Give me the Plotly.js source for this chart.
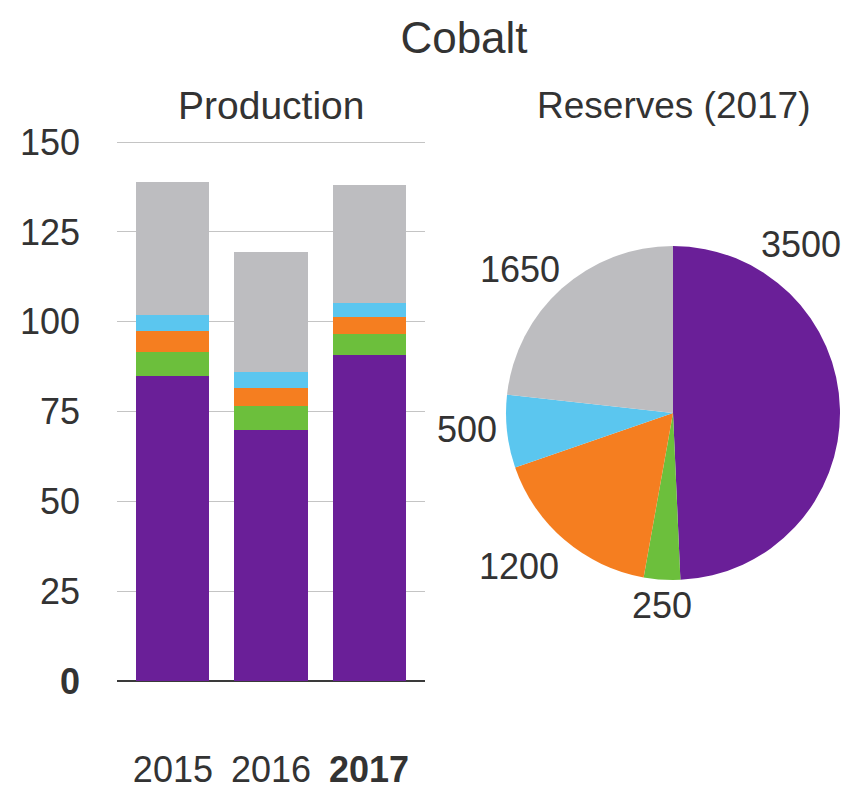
<!DOCTYPE html>
<html>
<head>
<meta charset="utf-8">
<script src="https://cdn.plot.ly/plotly-3.0.1.min.js"></script>
<style>html,body{margin:0;padding:0;background:#fff;}#chart{width:848px;height:789px;}</style>
</head>
<body>
<div id="chart"></div>
<script>
// Production (thousand tonnes), stacked by segment
const years = ['2015', '2016', '2017'];
const yearLabels = ['2015', '2016', '<b>2017</b>'];
const prodPurple = [85, 70, 90.7];
const prodGreen = [6.5, 6.5, 5.9];
const prodOrange = [6, 5, 4.8];
const prodBlue = [4.5, 4.5, 3.9];
const prodGray = [37, 33.5, 32.7];

// Reserves (2017)
const resLabels = ['A', 'B', 'C', 'D', 'E'];
const resValues = [3500, 250, 1200, 500, 1650];

const yTickVals = [0, 25, 50, 75, 100, 125, 150];
const yTickText = ['<b>0</b>', '25', '50', '75', '100', '125', '150'];

const colors = ['#6a1f98', '#6cbf3c', '#f57e20', '#5bc6ef', '#bdbdc0'];
const FONT = 'Liberation Sans, Arial, sans-serif';
const TXT = '#333333';

const series = [prodPurple, prodGreen, prodOrange, prodBlue, prodGray];
const traces = series.map((vals, i) => ({
  type: 'bar', x: years, y: vals,
  marker: {color: colors[i], line: {width: 0}},
  hoverinfo: 'y', showlegend: false
}));

traces.push({
  type: 'pie', labels: resLabels, values: resValues,
  sort: false, direction: 'clockwise', rotation: 0,
  marker: {colors: colors, line: {width: 0}},
  textinfo: 'none', showlegend: false,
  domain: {x: [0.5967, 0.9906], y: [0.2649, 0.6882]}
});

// label positions for the pie values (paper coords)
const pieLabelPos = [[801, 244], [662, 605], [519, 566], [467, 429], [520, 269]];
const W = 848, H = 789;
const annotations = [
  {text: 'Production', x: 271 / W, y: 1 - 105 / H, xref: 'paper', yref: 'paper',
   showarrow: false, xanchor: 'center', yanchor: 'middle', font: {family: FONT, size: 39, color: TXT}},
  {text: 'Reserves (2017)', x: 674 / W, y: 1 - 105 / H, xref: 'paper', yref: 'paper',
   showarrow: false, xanchor: 'center', yanchor: 'middle', font: {family: FONT, size: 37, color: TXT}}
];
resValues.forEach((v, i) => {
  annotations.push({
    text: String(v), x: pieLabelPos[i][0] / W, y: 1 - pieLabelPos[i][1] / H,
    xref: 'paper', yref: 'paper', showarrow: false, xanchor: 'center', yanchor: 'middle',
    font: {family: FONT, size: 36, color: TXT}
  });
});

const layout = {
  width: W, height: H,
  margin: {l: 0, r: 0, t: 0, b: 0},
  paper_bgcolor: '#ffffff', plot_bgcolor: '#ffffff',
  barmode: 'stack', bargap: 0.255,
  font: {family: FONT, size: 36, color: TXT},
  title: {text: 'Cobalt', x: 464 / W, xanchor: 'center', y: 1 - 38 / H, yanchor: 'middle',
          font: {family: FONT, size: 44, color: TXT}},
  xaxis: {
    type: 'category',
    domain: [117 / W, 425 / W], range: [-0.57, 2.57],
    tickvals: years, ticktext: yearLabels, ticks: '', showgrid: false,
    showline: false, zeroline: false, ticklabelstandoff: 64,
    tickfont: {family: FONT, size: 36, color: TXT}, fixedrange: true
  },
  yaxis: {
    domain: [1 - 681 / H, 1 - 141 / H], range: [0, 150.3],
    tickvals: yTickVals, ticktext: yTickText, ticks: '',
    showgrid: true, gridcolor: '#c4c4c4', gridwidth: 1,
    zeroline: true, zerolinecolor: '#3a3a3a', zerolinewidth: 2,
    showline: false, ticklabelstandoff: 36,
    tickfont: {family: FONT, size: 36, color: TXT}, fixedrange: true
  },
  annotations: annotations
};

Plotly.newPlot('chart', traces, layout, {displayModeBar: false, staticPlot: true});
</script>
</body>
</html>
